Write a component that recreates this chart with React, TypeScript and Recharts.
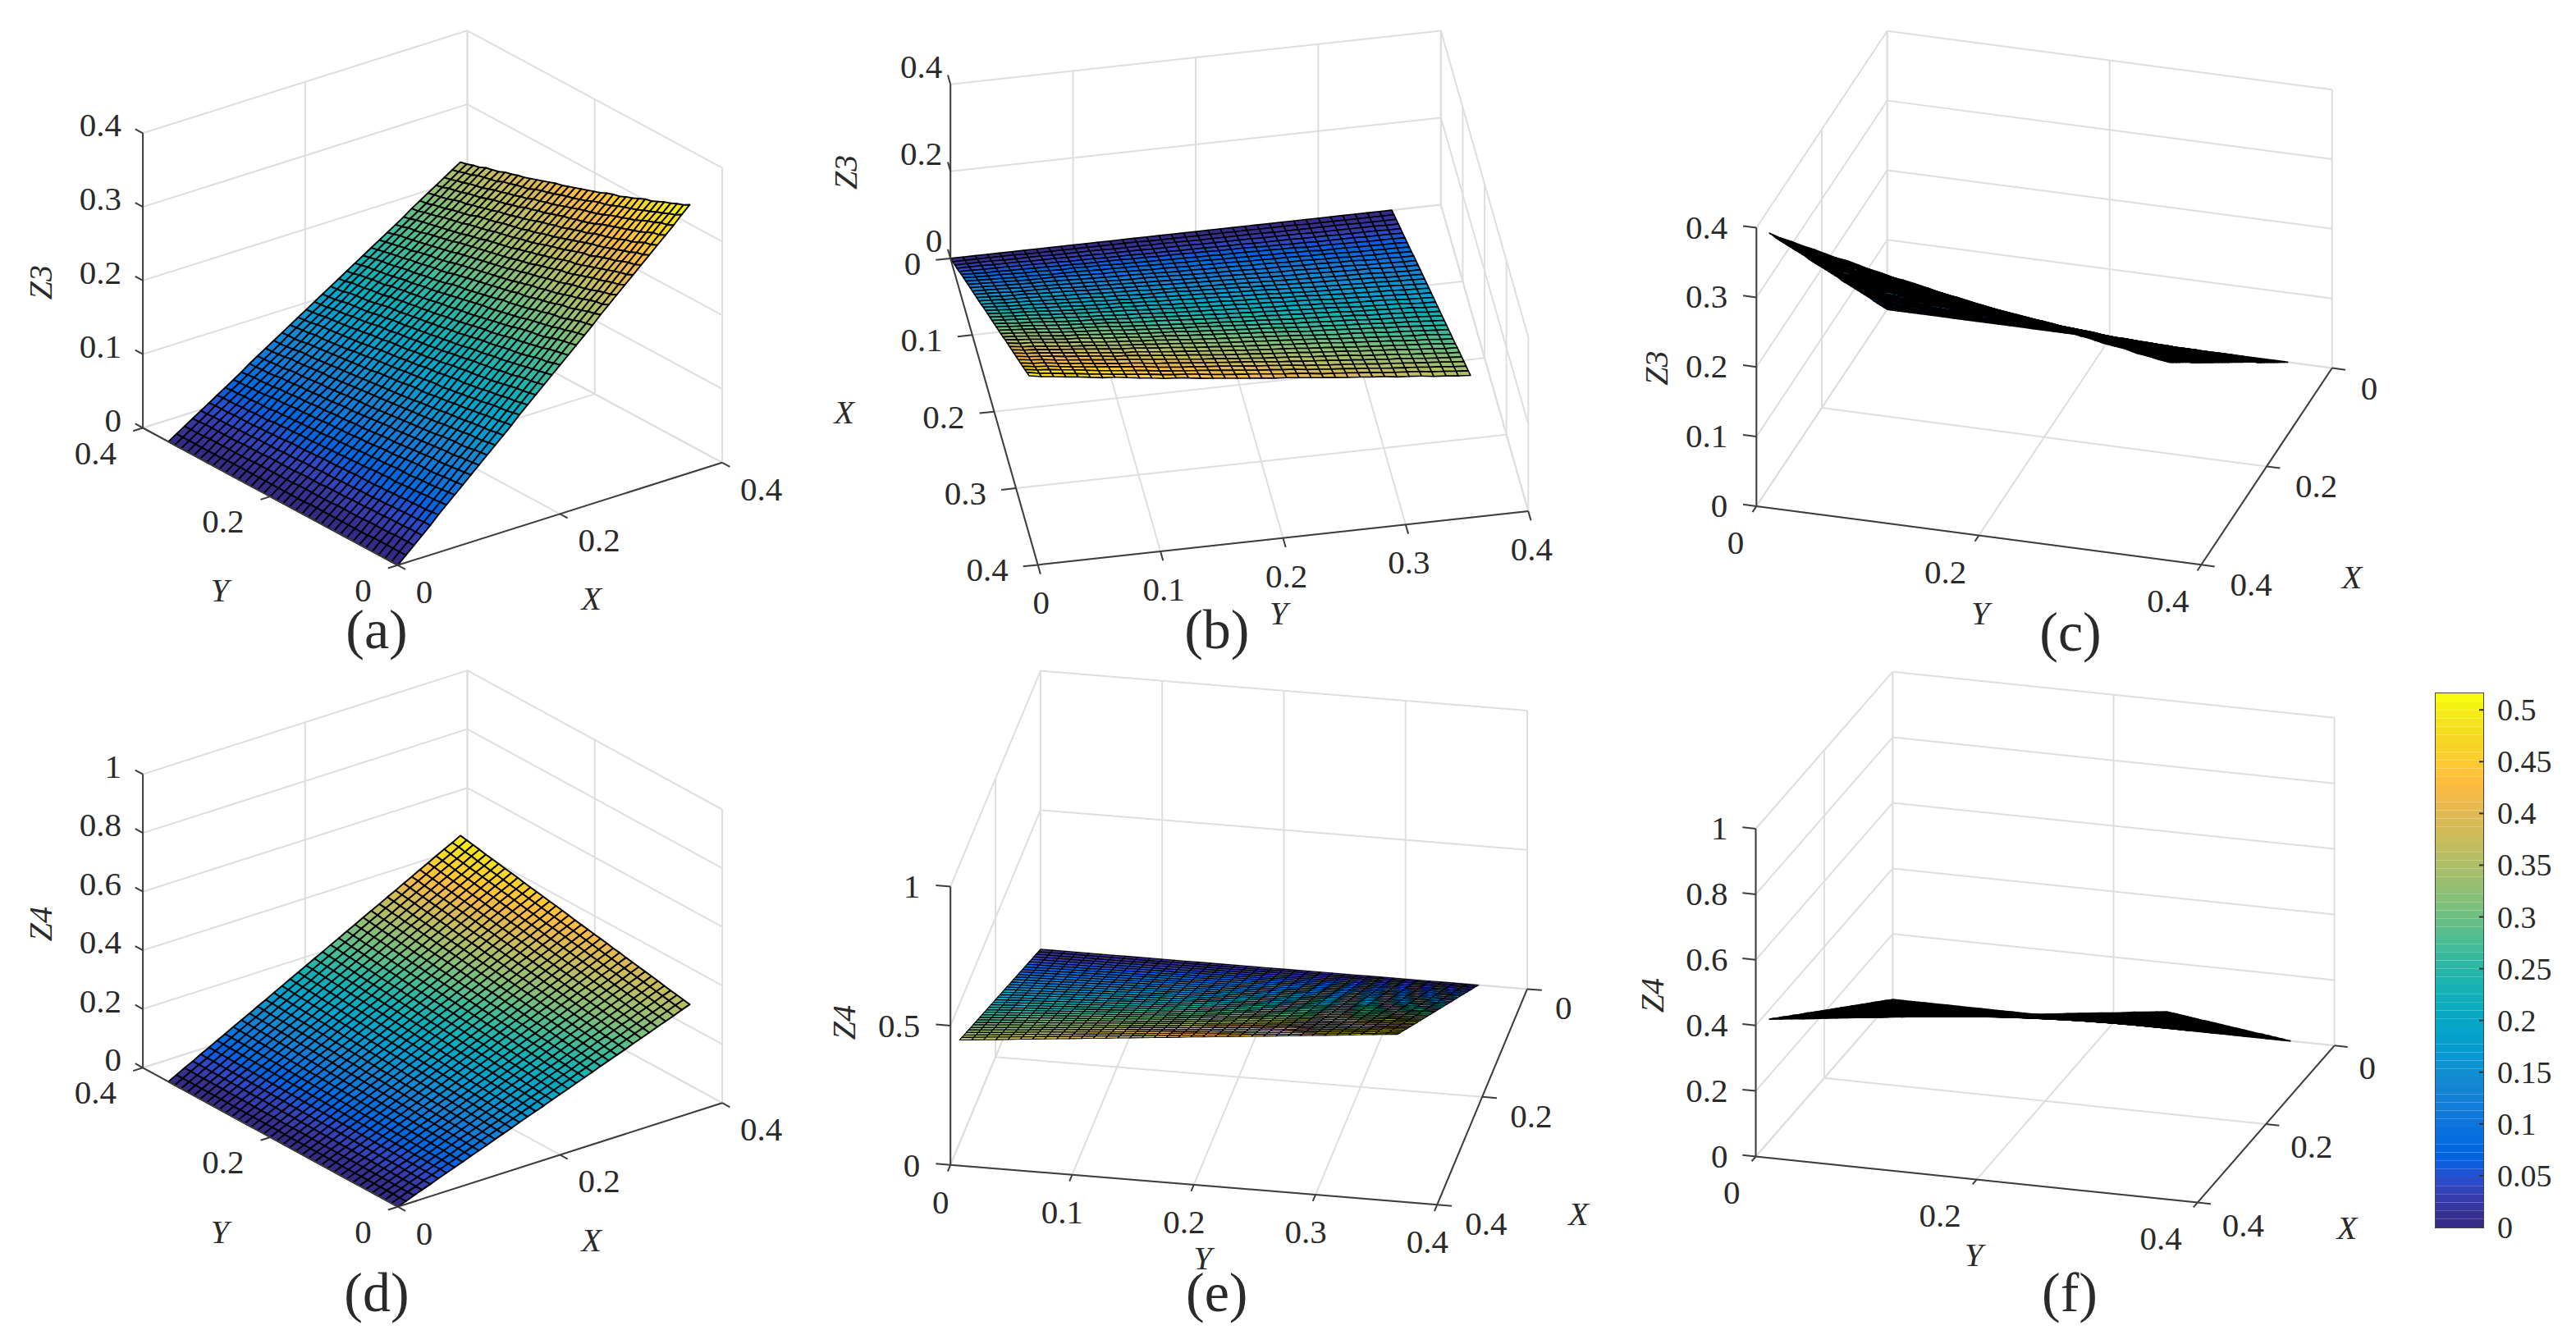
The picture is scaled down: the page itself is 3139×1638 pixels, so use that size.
import React from 'react';
import { ScatterChart, Scatter, XAxis, YAxis, BarChart, Bar } from 'recharts';

const W = 3139;
const H = 1638;

// grid nodes of the surface (same for X and Y)
const GRID_NODES = [0,.01,.02,.03,.04,.05,.06,.07,.08,.09,.1,.11,.12,.13,.14,.15,.16,.17,.18,.19,.2,.21,.22,.23,.24,.25,.26,.27,.28,.29,.3,.31,.32,.33,.34,.35,.36];

// Z3 in thousandths, one row per X node, one column per Y node
const Z3_MILLI = [
[0,0,0,0,0,0,0,0,0,0,0,0,0,0,0,0,0,0,0,0,0,0,0,0,0,0,0,0,0,0,0,0,0,0,0,0,0],
[10,10,10,10,10,10,9,9,9,9,9,9,9,9,9,9,8,8,8,8,8,8,8,8,8,8,8,8,8,7,7,7,7,7,7,7,7],
[20,20,20,20,19,19,19,19,18,18,18,18,18,17,17,17,17,17,17,16,16,16,16,16,16,16,15,15,15,15,15,15,15,14,14,14,14],
[30,30,30,29,29,29,28,28,28,27,27,27,26,26,26,26,25,25,25,25,24,24,24,24,24,23,23,23,23,22,22,22,22,22,22,21,21],
[40,40,39,39,39,38,38,37,37,36,36,36,35,35,35,34,34,34,33,33,33,32,32,32,31,31,31,31,30,30,30,29,29,29,29,28,28],
[51,50,49,49,48,48,47,47,46,46,45,45,45,45,44,44,43,43,43,42,42,41,41,41,40,39,39,38,38,37,37,37,37,36,36,36,35],
[61,60,59,59,58,57,57,56,55,56,55,55,54,53,53,52,52,51,51,50,50,49,49,49,48,48,47,47,45,45,45,44,44,43,43,43,42],
[71,70,69,68,67,67,66,65,65,65,64,63,63,62,62,61,60,60,59,59,58,57,57,56,56,55,55,54,54,52,52,52,51,51,50,50,49],
[81,80,79,78,77,76,76,76,75,74,73,72,72,71,70,69,69,68,67,67,66,66,65,64,64,63,63,62,61,61,60,59,58,58,57,57,56],
[91,90,89,88,87,86,86,85,84,83,82,81,80,80,79,78,77,76,76,75,74,74,73,72,72,71,70,70,69,68,68,66,66,65,65,64,63],
[101,100,99,98,96,96,95,94,93,92,91,90,89,88,88,87,86,85,84,83,82,82,81,80,79,79,78,77,77,76,75,75,73,72,72,71,71],
[111,110,109,107,106,106,105,104,102,101,100,99,98,97,96,95,94,93,92,91,91,90,89,88,87,86,86,85,84,83,83,82,80,80,79,78,78],
[121,120,118,117,117,115,114,113,112,110,109,108,107,106,105,104,103,102,101,100,99,98,97,96,95,94,93,93,92,91,90,89,89,87,86,85,85],
[131,130,128,127,126,125,123,122,121,120,118,117,116,115,113,112,111,110,109,108,107,106,105,104,103,102,101,100,99,98,97,97,96,94,93,92,92],
[141,140,138,137,136,134,133,131,130,129,127,126,125,123,122,122,121,119,118,117,116,115,113,112,111,110,109,108,107,106,105,104,103,101,100,100,99],
[152,150,148,147,146,144,142,141,139,138,136,135,133,133,132,130,129,128,127,125,124,123,122,121,119,118,117,115,114,113,112,111,111,109,108,107,106],
[162,160,158,157,155,153,152,150,148,147,145,145,143,142,140,139,138,136,135,134,132,131,130,129,127,126,124,123,122,121,120,119,118,117,115,114,113],
[172,170,168,167,165,163,161,159,158,156,155,154,152,151,149,147,146,144,143,142,140,139,138,137,135,134,133,131,130,128,127,126,125,124,122,121,120],
[182,180,178,177,175,172,171,169,167,166,164,163,161,159,158,156,154,153,151,150,149,147,146,145,143,142,141,139,137,136,135,133,132,131,129,128,127],
[192,190,188,186,184,182,180,178,176,175,173,171,170,168,166,164,163,161,160,158,157,155,154,152,151,150,148,147,145,143,142,141,140,138,136,135,134],
[202,200,197,196,194,191,189,187,186,184,182,180,179,177,175,173,171,170,168,166,165,163,162,160,159,157,156,155,153,151,149,148,147,146,143,142,141],
[212,210,208,206,203,201,199,197,195,194,191,189,187,186,184,182,180,178,176,175,173,171,170,168,167,165,164,162,161,158,157,156,154,153,152,149,148],
[222,220,218,216,213,210,208,207,205,203,200,198,196,194,192,190,188,186,185,183,181,180,178,176,174,173,171,170,168,167,164,163,162,160,159,156,155],
[232,230,228,225,223,220,218,216,214,212,209,207,205,203,201,199,198,196,194,192,190,188,186,184,182,181,179,177,176,174,172,170,169,167,166,164,162],
[242,240,238,235,232,229,228,226,223,221,218,216,214,212,211,208,206,204,202,200,198,197,195,192,190,188,187,185,183,182,180,178,176,175,173,171,169],
[253,250,248,245,242,239,238,235,232,230,228,225,223,222,219,217,215,213,211,209,207,205,203,201,198,196,195,193,191,189,188,185,184,182,180,178,176],
[263,259,258,255,252,249,247,244,241,239,237,234,233,230,228,225,223,221,219,217,215,213,211,209,207,204,202,200,199,197,195,192,191,189,187,185,183],
[273,269,267,264,261,258,256,254,251,248,246,244,241,239,237,234,232,229,227,225,223,221,219,217,215,213,210,208,206,204,202,200,198,196,195,192,190],
[283,279,277,274,271,269,266,263,260,257,256,253,250,248,245,242,240,238,235,233,231,229,227,225,223,221,219,216,214,212,210,208,205,203,202,199,197],
[293,289,287,284,281,278,275,272,269,266,265,262,259,256,254,251,249,246,244,241,239,237,235,233,230,228,226,223,221,219,217,215,213,211,209,206,204],
[303,299,297,294,290,288,285,282,278,277,274,271,268,265,263,260,257,254,252,250,247,245,243,241,238,236,234,232,229,227,225,223,220,218,216,213,212],
[313,309,307,303,300,297,294,291,288,286,283,280,277,274,271,268,266,263,260,258,255,253,251,249,246,244,242,240,236,234,232,230,227,225,223,220,219],
[323,319,317,313,309,307,303,300,297,295,292,288,286,283,280,277,275,272,270,267,264,261,259,256,254,252,249,247,244,242,239,238,235,232,230,228,226],
[333,329,327,323,319,316,313,310,307,304,301,297,294,291,289,286,284,281,278,275,273,270,268,264,262,259,257,255,252,249,247,245,242,240,238,235,233],
[343,339,337,333,330,326,322,319,316,313,310,306,303,300,298,295,292,289,286,283,281,278,276,272,270,267,265,262,260,257,254,252,250,247,245,242,240],
[354,349,346,342,339,335,332,328,325,322,319,315,312,310,307,303,300,297,295,292,289,286,284,281,277,275,273,270,268,264,262,260,258,254,252,249,247],
[364,359,356,352,349,345,341,339,335,331,328,324,322,319,315,312,309,306,303,300,297,295,292,289,286,283,280,278,275,273,269,267,265,261,259,256,254],
];

// Z4 in thousandths, one row per X node, one column per Y node
const Z4_MILLI = [
[0,0,0,0,0,0,0,0,0,0,0,0,0,0,0,0,0,0,0,0,0,0,0,0,0,0,0,0,0,0,0,0,0,0,0,0,0],
[10,10,11,11,11,11,11,11,11,11,11,12,12,12,12,12,12,12,12,12,13,13,13,13,13,13,13,13,14,14,14,14,14,14,14,14,14],
[21,21,21,21,22,22,22,22,22,23,23,23,23,24,24,24,24,25,25,25,25,25,26,26,26,26,27,27,27,27,28,28,28,28,28,29,29],
[31,31,32,32,32,33,33,33,34,34,34,35,35,35,36,36,36,37,37,37,38,38,38,39,39,40,40,40,41,41,41,42,42,42,43,43,43],
[41,42,42,43,43,44,44,44,45,45,46,46,47,47,48,48,49,49,49,50,50,51,51,52,52,53,53,54,54,55,55,55,56,56,57,57,58],
[52,52,53,53,54,54,55,56,56,57,57,58,58,59,60,60,61,61,62,62,63,64,64,65,65,66,66,67,68,68,69,69,70,71,71,72,72],
[62,63,63,64,65,65,66,67,67,68,69,69,70,71,71,72,73,74,74,75,76,76,77,78,78,79,80,80,81,82,83,83,84,85,85,86,87],
[72,73,74,75,75,76,77,78,79,79,80,81,82,83,83,84,85,86,87,87,88,89,90,91,91,92,93,94,95,95,96,97,98,99,99,100,101],
[82,83,84,85,86,87,88,89,90,91,92,93,93,94,95,96,97,98,99,100,101,102,103,104,104,105,106,107,108,109,110,111,112,113,114,115,116],
[93,94,95,96,97,98,99,100,101,102,103,104,105,106,107,108,109,110,111,112,113,114,115,117,118,119,120,121,122,123,124,125,126,127,128,129,130],
[103,104,105,107,108,109,110,111,112,113,115,116,117,118,119,120,121,123,124,125,126,127,128,130,131,132,133,134,135,136,138,139,140,141,142,143,144],
[113,115,116,117,118,120,121,122,123,125,126,127,128,130,131,132,134,135,136,137,139,140,141,142,144,145,146,148,149,150,151,153,154,155,156,158,159],
[124,125,126,128,129,131,132,133,135,136,137,139,140,142,143,144,146,147,148,150,151,153,154,155,157,158,159,161,162,164,165,166,168,169,171,172,173],
[134,135,137,138,140,141,143,144,146,147,149,150,152,153,155,156,158,159,161,162,164,165,167,168,170,171,173,174,176,177,179,180,182,183,185,186,188],
[144,146,147,149,151,152,154,156,157,159,160,162,164,165,167,168,170,172,173,175,176,178,180,181,183,185,186,188,189,191,193,194,196,197,199,201,202],
[155,156,158,160,161,163,165,167,168,170,172,174,175,177,179,180,182,184,186,187,189,191,192,194,196,198,199,201,203,205,206,208,210,212,213,215,217],
[165,167,168,170,172,174,176,178,180,181,183,185,187,189,191,192,194,196,198,200,202,204,205,207,209,211,213,215,216,218,220,222,224,226,227,229,231],
[175,177,179,181,183,185,187,189,191,193,195,197,199,201,202,205,206,208,210,212,214,216,218,220,222,224,226,228,230,232,234,236,238,240,242,244,245],
[185,188,190,192,194,196,198,200,202,204,206,208,210,212,214,217,219,221,223,225,227,229,231,233,235,237,239,241,243,246,248,250,252,254,256,258,260],
[196,198,200,202,204,207,209,211,213,215,218,220,222,224,226,229,231,233,235,237,239,242,244,246,248,250,253,255,257,259,261,264,266,268,270,272,274],
[206,208,211,213,215,218,220,222,224,227,229,231,234,236,238,241,243,245,247,250,252,254,257,259,261,264,266,268,270,273,275,277,280,282,284,287,289],
[216,219,221,224,226,228,231,233,236,238,240,243,245,248,250,253,255,257,260,262,265,267,269,272,274,277,279,282,284,286,289,291,294,296,298,301,303],
[227,229,232,234,237,239,242,244,247,249,252,255,257,260,262,265,267,270,272,275,277,280,282,285,287,290,292,295,297,300,303,305,308,310,313,315,318],
[237,240,242,245,247,250,253,256,258,261,263,266,269,271,274,277,279,282,285,287,290,293,295,298,300,303,306,308,311,314,316,319,322,324,327,330,332],
[247,250,253,256,258,261,264,267,269,272,275,278,280,283,286,289,291,294,297,300,302,305,308,311,313,316,319,322,324,327,330,333,336,338,341,344,347],
[258,261,263,266,269,272,275,278,281,284,286,289,292,295,298,301,304,307,309,312,315,318,321,324,327,330,332,335,338,341,344,347,350,353,355,358,361],
[268,271,274,277,280,283,286,289,292,295,298,301,304,307,310,313,316,319,322,325,328,331,334,337,340,343,346,349,352,355,358,361,363,367,369,373,375],
[278,281,284,288,291,294,297,300,303,306,309,312,315,319,322,325,328,331,334,337,340,343,346,350,353,356,359,362,365,368,371,374,377,381,384,387,390],
[288,292,295,298,301,305,308,311,314,318,321,324,327,330,333,337,340,343,346,350,353,356,359,363,366,369,372,375,379,382,385,388,391,395,398,401,404],
[299,302,305,309,312,316,319,322,325,329,332,336,339,342,345,349,352,356,359,362,365,369,372,376,379,382,385,389,392,396,399,402,405,409,412,416,419],
[309,313,316,320,323,326,330,333,337,340,344,347,350,354,357,361,364,368,371,375,378,382,385,389,392,395,399,402,406,409,413,416,419,423,426,430,433],
[319,323,326,330,334,337,341,344,348,352,355,359,362,366,369,373,376,380,383,387,391,394,398,401,405,409,412,416,419,423,426,430,433,437,441,444,448],
[330,333,337,341,344,348,352,356,359,363,366,370,374,378,381,385,388,392,396,400,403,407,411,414,418,422,425,429,433,436,440,444,447,451,455,459,462],
[340,344,347,351,355,359,363,367,370,374,378,382,385,389,393,397,401,405,408,412,416,420,423,427,431,435,439,443,446,450,454,458,461,465,469,473,477],
[350,354,358,362,366,370,374,378,381,386,389,393,397,401,405,409,413,417,421,425,428,432,436,440,444,448,452,456,460,464,468,472,475,479,483,487,491],
[361,365,369,373,377,381,385,389,393,397,401,405,409,413,417,421,425,429,433,437,441,445,449,453,457,461,465,469,473,477,481,485,489,494,497,502,505],
[371,375,379,383,387,392,396,400,404,408,412,417,420,425,429,433,437,441,445,450,454,458,462,466,470,474,478,483,487,491,495,499,503,508,512,516,520],
];

const PARULA = [
[.2081,.1663,.5292],[.2116,.1898,.5777],[.2123,.2138,.627],[.2081,.2386,.6771],[.1959,.2645,.7279],[.1707,.2919,.7792],[.1253,.3242,.8303],[.0591,.3598,.8683],
[.0117,.3875,.882],[.006,.4086,.8828],[.0165,.4266,.8786],[.0329,.443,.872],[.0498,.4586,.8641],[.0629,.4737,.8554],[.0723,.4887,.8467],[.0779,.504,.8384],
[.0793,.52,.8312],[.0749,.5375,.8263],[.0641,.557,.824],[.0488,.5772,.8228],[.0343,.5966,.8199],[.0265,.6137,.8135],[.0239,.6287,.8038],[.0231,.6418,.7913],
[.0228,.6535,.7768],[.0267,.6642,.7607],[.0384,.6743,.7436],[.059,.6838,.7254],[.0843,.6928,.7062],[.1133,.7015,.6859],[.1453,.7098,.6646],[.1801,.7177,.6424],
[.2178,.725,.6193],[.2586,.7317,.5954],[.3022,.7376,.5712],[.3482,.7424,.5473],[.3953,.7459,.5244],[.442,.7481,.5033],[.4871,.7491,.484],[.53,.7491,.4661],
[.5709,.7485,.4494],[.6099,.7473,.4337],[.6473,.7456,.4188],[.6834,.7435,.4044],[.7184,.7411,.3905],[.7525,.7384,.3768],[.7858,.7356,.3633],[.8185,.7327,.3498],
[.8507,.7299,.336],[.8824,.7274,.3217],[.9139,.7258,.3063],[.945,.7261,.2886],[.9739,.7314,.2666],[.9938,.7455,.2403],[.999,.7653,.2164],[.9955,.7861,.1967],
[.988,.8066,.1794],[.9789,.8271,.1633],[.9697,.8481,.1475],[.9626,.8705,.1309],[.9589,.8949,.1132],[.9598,.9218,.0948],[.9661,.9514,.0755],[.9763,.9831,.0538],
];
const COLORS = PARULA.map(c => `rgb(${Math.round(c[0] * 255)},${Math.round(c[1] * 255)},${Math.round(c[2] * 255)})`);

const TICKS_2 = [0, .2, .4];
const TICKS_1 = [0, .1, .2, .3, .4];
const Z3_TICKS_A = [0, .1, .2, .3, .4];
const Z3_TICKS_B = [0, .2, .4];
const Z4_TICKS_D = [0, .2, .4, .6, .8, 1];
const Z4_TICKS_E = [0, .5, 1];
const CB_TICKS = [0, .05, .1, .15, .2, .25, .3, .35, .4, .45, .5];
const CB_MAX = .516;

const AX_MAX = .4;
const FONT = '"Liberation Serif", "Times New Roman", serif';
const TEXT = '#2a2a2a';

type Lab = { a: string; dx: number; dy: number };
type Panel = {
  z: number[][]; zMax: number; zTicks: number[]; xTicks: number[]; yTicks: number[];
  o: number[]; ex: number[]; ey: number[]; ez: number; mesh: number;
  wallX: number; wallY: number; zAt: number[]; xAxisY: number; yAxisX: number;
  zTick: number[]; xTickDir: number; yTickDir: number;
  zLab: Lab; xLab: Lab; yLab: Lab;
  zName: string; zNamePos: number[]; xNamePos: number[]; yNamePos: number[]; cap: string; capPos: number[];
};

const PANELS: Panel[] = [
  { z: Z3_MILLI, zMax: .4, zTicks: Z3_TICKS_A, xTicks: TICKS_2, yTicks: TICKS_2, mesh: 1.9,
    o: [484.7, 688.8], ex: [395.4, -125], ey: [-310.6, -167.3], ez: 359.2,
    wallX: .4, wallY: .4, zAt: [0, .4], xAxisY: 0, yAxisX: 0, zTick: [0, 1], xTickDir: -1, yTickDir: -1,
    zLab: { a: 'end', dx: -26, dy: -10 }, xLab: { a: 'start', dx: 22, dy: 32 }, yLab: { a: 'end', dx: -32, dy: 30 },
    zName: 'Z3', zNamePos: [49.7, 344], xNamePos: [720.7, 729.6], yNamePos: [267.9, 719.4], cap: '(a)', capPos: [459, 767] },
  { z: Z3_MILLI, zMax: .4, zTicks: Z3_TICKS_B, xTicks: TICKS_1, yTicks: TICKS_1, mesh: 1.6,
    o: [1158.2, 314.9], ex: [106.5, 373.5], ey: [597.6, -65.3], ez: 212.2,
    wallX: 0, wallY: .4, zAt: [0, 0], xAxisY: 0, yAxisX: .4, zTick: [-1, 0], xTickDir: -1, yTickDir: 1,
    zLab: { a: 'end', dx: -10, dy: -22 }, xLab: { a: 'end', dx: -36, dy: 6 }, yLab: { a: 'middle', dx: 4, dy: 46 },
    zName: 'Z3', zNamePos: [1030.6, 209.8], xNamePos: [1028.7, 502], yNamePos: [1558, 747], cap: '(b)', capPos: [1482.8, 767] },
  { z: Z3_MILLI, zMax: .4, zTicks: Z3_TICKS_A, xTicks: TICKS_2, yTicks: TICKS_2, mesh: 1.7,
    o: [2299.7, 377.1], ex: [-159.4, 239.8], ey: [542.1, 71.4], ez: 339.3,
    wallX: 0, wallY: 0, zAt: [.4, 0], xAxisY: .4, yAxisX: .4, zTick: [0, -1], xTickDir: 1, yTickDir: 1,
    zLab: { a: 'end', dx: -35, dy: -1 }, xLab: { a: 'start', dx: 35, dy: 24 }, yLab: { a: 'end', dx: -15, dy: 44 },
    zName: 'Z3', zNamePos: [2019, 448.6], xNamePos: [2866, 703.7], yNamePos: [2413, 747], cap: '(c)', capPos: [2523, 770] },
  { z: Z4_MILLI, zMax: 1, zTicks: Z4_TICKS_D, xTicks: TICKS_2, yTicks: TICKS_2, mesh: 1.9,
    o: [484.7, 1470.7], ex: [395.4, -126.5], ey: [-310.6, -169.4], ez: 357.7,
    wallX: .4, wallY: .4, zAt: [0, .4], xAxisY: 0, yAxisX: 0, zTick: [0, 1], xTickDir: -1, yTickDir: -1,
    zLab: { a: 'end', dx: -26, dy: -10 }, xLab: { a: 'start', dx: 22, dy: 32 }, yLab: { a: 'end', dx: -32, dy: 30 },
    zName: 'Z4', zNamePos: [49.7, 1126], xNamePos: [720.7, 1511.5], yNamePos: [267.9, 1501], cap: '(d)', capPos: [459, 1575] },
  { z: Z4_MILLI, zMax: 1, zTicks: Z4_TICKS_E, xTicks: TICKS_2, yTicks: TICKS_1, mesh: 1.1,
    o: [1267.9, 1156.9], ex: [-109.7, 262.8], ey: [593.1, 48.5], ez: 339.3,
    wallX: 0, wallY: 0, zAt: [.4, 0], xAxisY: .4, yAxisX: .4, zTick: [0, -1], xTickDir: 1, yTickDir: 1,
    zLab: { a: 'end', dx: -37, dy: 0 }, xLab: { a: 'start', dx: 34, dy: 23 }, yLab: { a: 'middle', dx: -12, dy: 45 },
    zName: 'Z4', zNamePos: [1028.7, 1246], xNamePos: [1923.5, 1479], yNamePos: [1465.6, 1533.5], cap: '(e)', capPos: [1482.8, 1575] },
  { z: Z4_MILLI, zMax: 1, zTicks: Z4_TICKS_D, xTicks: TICKS_2, yTicks: TICKS_2, mesh: 1.7,
    o: [2306.3, 1218.2], ex: [-166.8, 191.3], ey: [538.3, 56.1], ez: 399.5,
    wallX: 0, wallY: 0, zAt: [.4, 0], xAxisY: .4, yAxisX: .4, zTick: [0, -1], xTickDir: 1, yTickDir: 1,
    zLab: { a: 'end', dx: -34, dy: -1 }, xLab: { a: 'start', dx: 30, dy: 27 }, yLab: { a: 'end', dx: -19, dy: 43 },
    zName: 'Z4', zNamePos: [2013, 1213], xNamePos: [2860, 1496], yNamePos: [2405, 1529], cap: '(f)', capPos: [2522, 1575] },
];

const pr = (p: Panel, x: number, y: number, z: number) => [
  p.o[0] + (p.ex[0] * x + p.ey[0] * y) / AX_MAX,
  p.o[1] + (p.ex[1] * x + p.ey[1] * y) / AX_MAX - (p.ez * z) / p.zMax,
];

type Seg = { sx: number; sy: number; dx: number; dy: number };
const seg = (a: number[], b: number[]): Seg => ({ sx: a[0], sy: a[1], dx: b[0] - a[0], dy: b[1] - a[1] });

function gridSegs(p: Panel) {
  const out: Seg[] = [];
  const zm = p.zMax;
  for (const z of p.zTicks) {
    out.push(seg(pr(p, 0, p.wallY, z), pr(p, AX_MAX, p.wallY, z)));
    out.push(seg(pr(p, p.wallX, 0, z), pr(p, p.wallX, AX_MAX, z)));
  }
  for (const x of p.xTicks) {
    out.push(seg(pr(p, x, p.wallY, 0), pr(p, x, p.wallY, zm)));
    out.push(seg(pr(p, x, 0, 0), pr(p, x, AX_MAX, 0)));
  }
  for (const y of p.yTicks) {
    out.push(seg(pr(p, p.wallX, y, 0), pr(p, p.wallX, y, zm)));
    out.push(seg(pr(p, 0, y, 0), pr(p, AX_MAX, y, 0)));
  }
  return out;
}

const TL = .012;
function axisSegs(p: Panel) {
  const out: Seg[] = [];
  const [zx, zy] = p.zAt;
  out.push(seg(pr(p, zx, zy, 0), pr(p, zx, zy, p.zMax)));
  out.push(seg(pr(p, 0, p.xAxisY, 0), pr(p, AX_MAX, p.xAxisY, 0)));
  out.push(seg(pr(p, p.yAxisX, 0, 0), pr(p, p.yAxisX, AX_MAX, 0)));
  for (const z of p.zTicks) out.push(seg(pr(p, zx, zy, z), pr(p, zx + p.zTick[0] * TL, zy + p.zTick[1] * TL, z)));
  for (const x of p.xTicks) out.push(seg(pr(p, x, p.xAxisY, 0), pr(p, x, p.xAxisY + p.xTickDir * TL, 0)));
  for (const y of p.yTicks) out.push(seg(pr(p, p.yAxisX, y, 0), pr(p, p.yAxisX + p.yTickDir * TL, y, 0)));
  return out;
}

type Txt = { sx: number; sy: number; t: string; a: string; size: number; italic?: boolean; rot?: boolean };
function texts(p: Panel) {
  const out: Txt[] = [];
  const [zx, zy] = p.zAt;
  const add = (pt: number[], l: Lab, v: number) => out.push({ sx: pt[0] + l.dx, sy: pt[1] + l.dy, t: String(v), a: l.a, size: 41 });
  for (const z of p.zTicks) add(pr(p, zx, zy, z), p.zLab, z);
  for (const x of p.xTicks) add(pr(p, x, p.xAxisY, 0), p.xLab, x);
  for (const y of p.yTicks) add(pr(p, p.yAxisX, y, 0), p.yLab, y);
  out.push({ sx: p.zNamePos[0], sy: p.zNamePos[1], t: p.zName, a: 'middle', size: 40, italic: true, rot: true });
  out.push({ sx: p.xNamePos[0], sy: p.xNamePos[1], t: 'X', a: 'middle', size: 40, italic: true });
  out.push({ sx: p.yNamePos[0], sy: p.yNamePos[1], t: 'Y', a: 'middle', size: 40, italic: true });
  out.push({ sx: p.capPos[0], sy: p.capPos[1], t: p.cap, a: 'middle', size: 68 });
  return out;
}

function cells(p: Panel) {
  const n = GRID_NODES.length - 1;
  const flat = p.z.flat();
  const lo = Math.min(...flat);
  const hi = Math.max(...flat);
  const xi = Array.from({ length: n }, (_, i) => (p.wallX > 0 ? n - 1 - i : i));
  const yi = Array.from({ length: n }, (_, j) => (p.wallY > 0 ? n - 1 - j : j));
  const out: any[] = [];
  for (const i of xi) {
    for (const j of yi) {
      const corner = (a: number, b: number) => pr(p, GRID_NODES[a], GRID_NODES[b], p.z[a][b] / 1000);
      const c = [corner(i, j), corner(i + 1, j), corner(i + 1, j + 1), corner(i, j + 1)];
      const sx = (c[0][0] + c[1][0] + c[2][0] + c[3][0]) / 4;
      const sy = (c[0][1] + c[1][1] + c[2][1] + c[3][1]) / 4;
      const t = (p.z[i][j] - lo) / (hi - lo);
      const idx = Math.min(COLORS.length - 1, Math.floor(t * COLORS.length));
      out.push({ sx, sy, off: c.map(q => [q[0] - sx, q[1] - sy]), fill: COLORS[idx], mesh: p.mesh });
    }
  }
  return out;
}

const GridLine = (props: any) => {
  const { cx, cy, payload } = props;
  return <line x1={cx} y1={cy} x2={cx + payload.dx} y2={cy + payload.dy} stroke="#dedede" strokeWidth={2} />;
};
const AxisLine = (props: any) => {
  const { cx, cy, payload } = props;
  return <line x1={cx} y1={cy} x2={cx + payload.dx} y2={cy + payload.dy} stroke="#3d3d3d" strokeWidth={2} />;
};
const Cell3D = (props: any) => {
  const { cx, cy, payload } = props;
  const pts = payload.off.map((q: number[]) => `${cx + q[0]},${cy + q[1]}`).join(' ');
  return <polygon points={pts} fill={payload.fill} stroke="#000" strokeWidth={payload.mesh} strokeLinejoin="round" />;
};
const Label3D = (props: any) => {
  const { cx, cy, payload } = props;
  return (
    <text x={cx} y={cy} textAnchor={payload.a} dominantBaseline="central" fontFamily={FONT} fontSize={payload.size}
      fontStyle={payload.italic ? 'italic' : 'normal'} fill={TEXT}
      transform={payload.rot ? `rotate(-90 ${cx} ${cy})` : undefined}>{payload.t}</text>
  );
};

const CB_ROW: any = { name: 'cb' };
COLORS.forEach((_, i) => { CB_ROW[`c${i}`] = CB_MAX / COLORS.length; });

const CbTick = (props: any) => {
  const { x, y, payload } = props;
  return (
    <g>
      <line x1={x - 5} x2={x} y1={y} y2={y} stroke="#333" strokeWidth={2} />
      <text x={x + 17} y={y} dominantBaseline="central" fontFamily={FONT} fontSize={38} fill={TEXT}>{payload.value}</text>
    </g>
  );
};

export default function App() {
  return (
    <div style={{ position: 'absolute', left: 0, top: 0, width: W, height: H, background: '#fff' }}>
      <div style={{ position: 'absolute', left: 0, top: 0 }}>
        <ScatterChart width={W} height={H} margin={{ top: 0, right: 0, bottom: 0, left: 0 }}>
          <XAxis type="number" dataKey="sx" domain={[0, W]} allowDataOverflow hide />
          <YAxis type="number" dataKey="sy" domain={[0, H]} allowDataOverflow reversed hide />
          {PANELS.map((p, i) => (
            <Scatter key={`g${i}`} data={gridSegs(p)} shape={GridLine} isAnimationActive={false} />
          ))}
          {PANELS.map((p, i) => (
            <Scatter key={`c${i}`} data={cells(p)} shape={Cell3D} isAnimationActive={false} />
          ))}
          {PANELS.map((p, i) => (
            <Scatter key={`a${i}`} data={axisSegs(p)} shape={AxisLine} isAnimationActive={false} />
          ))}
          {PANELS.map((p, i) => (
            <Scatter key={`t${i}`} data={texts(p)} shape={Label3D} isAnimationActive={false} />
          ))}
        </ScatterChart>
      </div>
      <div style={{ position: 'absolute', left: 2968, top: 815 }}>
        <BarChart width={168} height={711} data={[CB_ROW]} margin={{ top: 30, right: 0, bottom: 30, left: 0 }} barCategoryGap={0}>
          <XAxis dataKey="name" hide />
          <YAxis type="number" orientation="right" width={110} domain={[0, CB_MAX]} allowDataOverflow ticks={CB_TICKS}
            interval={0} axisLine={false} tickLine={false} tickSize={0} tickMargin={0} tick={CbTick} />
          {COLORS.map((c, i) => (
            <Bar key={c} dataKey={`c${i}`} stackId="cb" fill={c} isAnimationActive={false} />
          ))}
        </BarChart>
      </div>
      <div style={{ position: 'absolute', left: 2967, top: 844, width: 58, height: 651, border: '1.5px solid #444', pointerEvents: 'none' }} />
    </div>
  );
}
